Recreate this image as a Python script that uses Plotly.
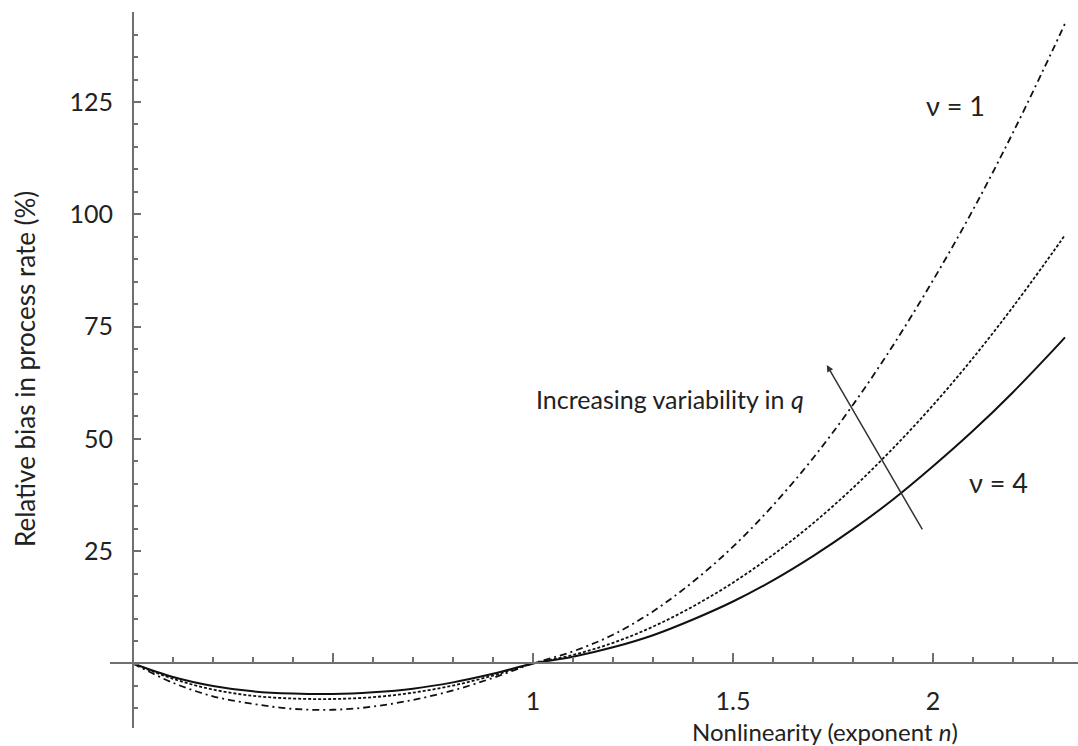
import plotly.graph_objects as go

# ---- data ----
exponent_n = [0.0, 0.1, 0.2, 0.3, 0.4, 0.5, 0.6, 0.7, 0.8, 0.9, 1.0,
              1.1, 1.2, 1.3, 1.4, 1.5, 1.6, 1.7, 1.8, 1.9, 2.0,
              2.1, 2.2, 2.3, 2.33]

bias_nu1 = [0.0, -4.3, -7.3, -9.0, -10.1, -10.3, -9.6, -8.1, -6.0, -3.2, 0.0,
            2.7, 6.4, 11.6, 18.2, 26.0, 35.2, 45.7, 57.6, 70.8, 85.3,
            101.0, 118.2, 136.7, 142.5]

bias_mid = [0.0, -3.4, -5.8, -7.2, -7.8, -7.9, -7.5, -6.5, -4.9, -2.7, 0.0,
            1.9, 4.6, 8.2, 12.7, 18.0, 24.2, 31.2, 39.1, 47.9, 57.5,
            68.0, 79.4, 91.6, 95.4]

bias_nu4 = [0.0, -3.0, -5.0, -6.2, -6.7, -6.8, -6.4, -5.6, -4.2, -2.3, 0.0,
            1.5, 3.6, 6.3, 9.8, 13.8, 18.5, 23.9, 29.9, 36.5, 43.9,
            51.8, 60.4, 69.7, 72.6]

x_major_ticks = [0.5, 1, 1.5, 2]
x_major_labels = ["", "1", "1.5", "2"]
y_major_ticks = [25, 50, 75, 100, 125]
y_major_labels = ["25", "50", "75", "100", "125"]

X_RANGE = [-0.0575, 2.3625]
Y_RANGE = [-14.36, 145.04]

FONT = "Lato"
TXT = "#222222"
AX = "#707070"

fig = go.Figure()
fig.add_trace(go.Scatter(x=exponent_n, y=bias_nu1, mode="lines",
                         line=dict(color="#111111", width=1.8, dash="7px,4px,2px,4px", shape="spline"),
                         name="ν = 1"))
fig.add_trace(go.Scatter(x=exponent_n, y=bias_mid, mode="lines",
                         line=dict(color="#111111", width=1.8, dash="3px,2px", shape="spline"),
                         name="intermediate"))
fig.add_trace(go.Scatter(x=exponent_n, y=bias_nu4, mode="lines",
                         line=dict(color="#111111", width=2, shape="spline"),
                         name="ν = 4"))

xpos = (0 - Y_RANGE[0]) / (Y_RANGE[1] - Y_RANGE[0])
ypos = (0 - X_RANGE[0]) / (X_RANGE[1] - X_RANGE[0])

fig.update_layout(
    width=1078, height=746,
    margin=dict(l=110, r=0, t=12, b=18),
    paper_bgcolor="white", plot_bgcolor="white",
    showlegend=False,
    font=dict(family=FONT, color=TXT, size=24),
    xaxis=dict(range=X_RANGE, anchor="free", position=xpos,
               showline=True, linecolor=AX, linewidth=2,
               showgrid=False, zeroline=False,
               tickmode="array", tickvals=x_major_ticks, ticktext=x_major_labels,
               ticks="inside", ticklen=9, tickwidth=1.5, tickcolor=AX,
               ticklabelstandoff=16,
               tickfont=dict(family=FONT, size=25, color=TXT),
               minor=dict(dtick=0.1, tick0=0, ticks="inside", ticklen=5,
                          tickwidth=1.5, tickcolor=AX, showgrid=False)),
    yaxis=dict(range=Y_RANGE, anchor="free", position=ypos,
               showline=True, linecolor=AX, linewidth=2,
               showgrid=False, zeroline=False,
               tickmode="array", tickvals=y_major_ticks, ticktext=y_major_labels,
               ticks="inside", ticklen=7, tickwidth=1.5, tickcolor=AX,
               ticklabelstandoff=14,
               tickfont=dict(family=FONT, size=25, color=TXT),
               minor=dict(dtick=5, tick0=0, ticks="inside", ticklen=4,
                          tickwidth=1.5, tickcolor=AX, showgrid=False)),
)

# arrow: tail and head in data units
ARROW_TAIL = (1.9755, 29.5)
ARROW_HEAD = (1.7345, 66.45)
fig.add_annotation(x=ARROW_HEAD[0], y=ARROW_HEAD[1], ax=ARROW_TAIL[0], ay=ARROW_TAIL[1],
                   xref="x", yref="y", axref="x", ayref="y", text="",
                   showarrow=True, arrowhead=2, arrowsize=0.9, arrowwidth=1.5,
                   arrowcolor="#333333")

fig.add_annotation(x=1.0025, y=58.9, xref="x", yref="y", xanchor="left", yanchor="middle",
                   text="Increasing variability in <i>q</i>", showarrow=False,
                   font=dict(family=FONT, size=25, color=TXT))
fig.add_annotation(x=2.055, y=124.3, xref="x", yref="y", xanchor="center", yanchor="middle",
                   text="ν = 1", showarrow=False, font=dict(family=FONT, size=27, color=TXT))
fig.add_annotation(x=2.1625, y=40.2, xref="x", yref="y", xanchor="center", yanchor="middle",
                   text="ν = 4", showarrow=False, font=dict(family=FONT, size=27, color=TXT))

# axis titles
fig.add_annotation(x=(825 - 110) / 968, y=(728 - 731) / 716, xref="paper", yref="paper",
                   xanchor="center", yanchor="middle", showarrow=False,
                   text="Nonlinearity (exponent <i>n</i>)",
                   font=dict(family=FONT, size=24, color=TXT))
fig.add_annotation(x=(25 - 110) / 968, y=(728 - 369) / 716, xref="paper", yref="paper",
                   xanchor="center", yanchor="middle", showarrow=False, textangle=-90,
                   text="Relative bias in process rate (%)",
                   font=dict(family=FONT, size=26, color=TXT))

fig.write_html("out.html",
               config={"displayModeBar": False},
               post_script="document.body.style.margin='0';document.body.style.overflow='hidden';")
